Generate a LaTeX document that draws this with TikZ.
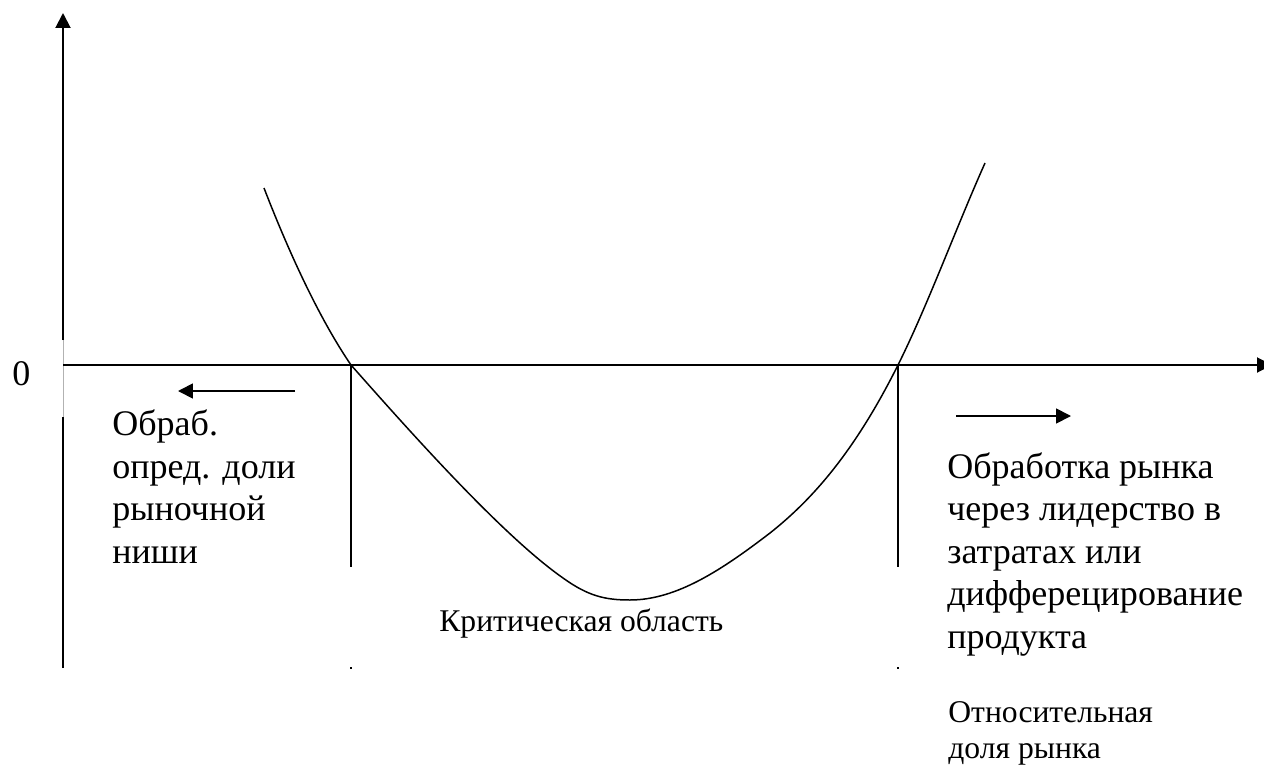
\documentclass[tikz,border=0pt]{standalone}
\usepackage{fontspec}
\setmainfont{Liberation Serif}
\usetikzlibrary{arrows.meta,positioning}
\tikzset{
  axis/.style={-{Triangle[length=0.3cm,width=0.3cm]},line width=1.1pt},
  bnd/.style={line width=1pt},
  curv/.style={line width=0.85pt},
  dirarr/.style={-{Triangle[length=0.3cm,width=0.3cm]},line width=1pt},
  bigtxt/.style={inner sep=0pt,anchor=base west,align=left,font=\fontsize{20.5}{24.1}\selectfont},
  smltxt/.style={inner sep=0pt,anchor=base west,align=left,font=\fontsize{18}{20.4}\selectfont}
}

\begin{document}
\begin{tikzpicture}[x=0.02cm,y=-0.02cm]
  \useasboundingbox (0,0) rectangle (1264,767);
  % axes
  \coordinate (O) at (63,365);
  \coordinate (ytop) at (63,13);
  \coordinate (ybot) at (63,668);
  \coordinate (gtop) at (63,340);
  \coordinate (gbot) at (63,417);
  \coordinate (xend) at (1272,365);
  \draw[bnd] (ybot) -- (gbot);
  \draw[gray!60,line width=0.5pt] (gbot) -- (gtop);
  \draw[axis] (gtop) -- (ytop);
  \draw[axis] (O) -- (xend);
  \node[bigtxt] (zero) at (12,385) {0};

  % bounds of the critical area
  \coordinate (L0) at (351,365);
  \coordinate (L1) at (351,567);
  \coordinate (R0) at (898,365);
  \coordinate (R1) at (898,567);
  \coordinate (Ld) at (351,667);
  \coordinate (Rd) at (898,667);
  \draw[bnd] (L0) -- (L1);
  \draw[bnd] (R0) -- (R1);
  \draw[line width=0.6pt] (Ld) -- ++(0,2);
  \draw[line width=0.6pt] (Rd) -- ++(0,2);

  % curve
  \coordinate (cbeg) at (264,188);
  \coordinate (cmin) at (630,600);
  \coordinate (cend) at (985,163);
  \draw[curv] (cbeg) .. controls (293,263) and (323,324) .. (L0)
    .. controls (412,434) and (503,536) .. (563,578)
    .. controls (588,596) and (605,600) .. (cmin)
    .. controls (677,600) and (723,569) .. (770,533)
    .. controls (813,499) and (855,451) .. (R0)
    .. controls (927,307) and (956,228) .. (cend);

  % direction arrows
  \coordinate (la0) at (295,391);
  \coordinate (la1) at (178,391);
  \coordinate (ra0) at (956,416);
  \coordinate (ra1) at (1071,416);
  \draw[dirarr] (la0) -- (la1);
  \draw[dirarr] (ra0) -- (ra1);

  % labels (anchored at the last line)
  \node[bigtxt] (niche) at (112,563) {Обраб.\\опред. доли\\рыночной\\ниши};
  \node[bigtxt] (lead) at (947,648) {Обработка рынка\\через лидерство в\\затратах или\\дифферецирование\\продукта};
  \node[smltxt] (crit) at (439,631) {Критическая область};
  \node[smltxt] (share) at (948,758) {Относительная\\доля рынка};
\end{tikzpicture}
\end{document}
